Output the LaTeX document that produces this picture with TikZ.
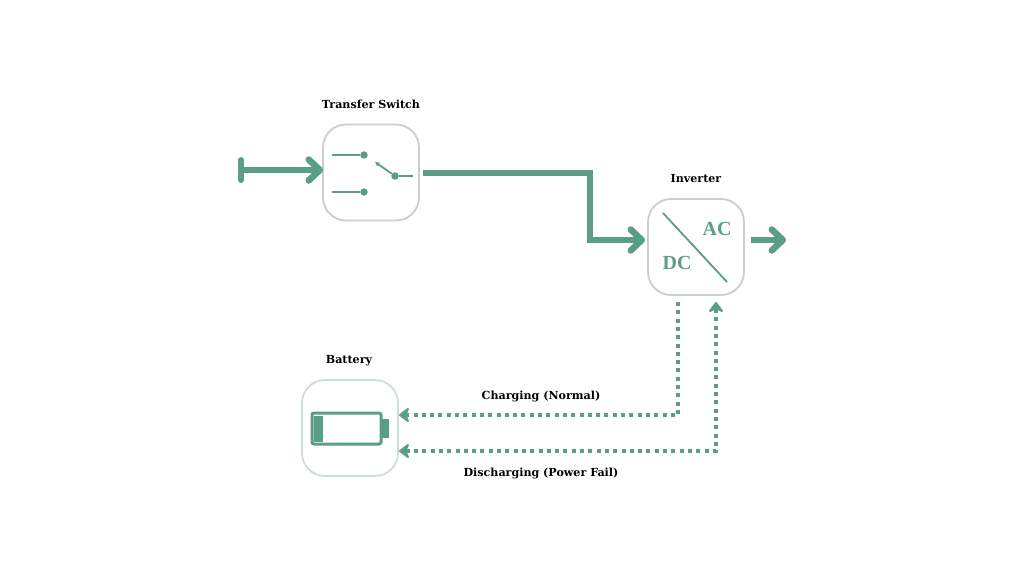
\documentclass[tikz,border=0pt]{standalone}
\usepackage{fontspec}
\setmainfont{DejaVu Serif}
\newfontfamily\iconfont{Liberation Serif}
\usetikzlibrary{arrows.meta}
\definecolor{flowgreen}{HTML}{5B9E86}
\definecolor{boxgray}{HTML}{CBCFCC}
\definecolor{boxpale}{HTML}{CFDDD7}
\tikzset{
  unitbox/.style={shape=rectangle,draw=boxgray,line width=1.8pt,rounded corners=23pt,minimum size=96pt,inner sep=0pt},
  caption/.style={font=\fontsize{11.1}{13}\selectfont\bfseries,text=black,inner sep=0pt},
  iconlabel/.style={font=\iconfont\fontsize{20}{22}\selectfont\bfseries,text=flowgreen,inner sep=0pt},
  contact/.style={shape=circle,fill=flowgreen,minimum size=7.5pt,inner sep=0pt},
  mainflow/.style={draw=flowgreen,line width=6pt,-{Straight Barb[round,length=11pt,width=21pt,line width=6.5pt]}},
  auxflow/.style={draw=flowgreen,line width=4pt,dash pattern=on 4pt off 4.3pt,{Stealth[round,length=12pt,width=18pt,inset=4pt]}-{Stealth[round,length=12pt,width=18pt,inset=4pt]}},
  chargeflow/.style={draw=flowgreen,line width=4pt,dash pattern=on 4pt off 4.3pt,-{Stealth[round,length=12pt,width=18pt,inset=4pt]}},
  wire/.style={draw=flowgreen,line width=1.8pt}
}
\begin{document}
\begin{tikzpicture}[x=1pt,y=-1pt]
\useasboundingbox (0,0) rectangle (1024,576);

\node(switch) at (371,172.5)[unitbox]  {};
\node(inverter) at (696,247)[unitbox]  {};
\node(battery) at (350,428)[unitbox,draw=boxpale]  {};

\node(switchcap) at (371,104.5)[caption]  {Transfer Switch};
\node(invertercap) at (696,178.5)[caption]  {Inverter};
\node(batterycap) at (349,360.5)[caption]  {Battery};
\node(chargecap) at (541,396.5)[caption]  {Charging (Normal)};
\node(dischargecap) at (541,473.5)[caption]  {Discharging (Power Fail)};

% switch symbol
\node(upper) at (364,155)[contact]  {};
\node(lower) at (364,192)[contact]  {};
\node(pole) at (395,176)[contact]  {};
\coordinate (upperin) at (332,155);
\coordinate (lowerin) at (332,192);
\coordinate (poleout) at (413,176);
\coordinate (throw) at (375,162);
\draw [wire] (upperin) -- (upper);
\draw [wire] (lowerin) -- (lower);
\draw [wire] (pole) -- (poleout);
\draw [wire,-{Stealth[length=5pt,width=5pt]}] (pole) -- (throw);

% inverter symbol
\node(ac) at (717,229)[iconlabel]  {AC};
\node(dc) at (677,263)[iconlabel]  {DC};
\coordinate (slashtop) at (663,213);
\coordinate (slashend) at (727,282);
\draw [wire] (slashtop) -- (slashend);

% battery symbol
\node(cell) at (346.5,428.5)[shape=rectangle,draw=flowgreen,line width=3pt,rounded corners=2pt,minimum width=69pt,minimum height=31pt,inner sep=0pt]  {};
\node(level) at (318.5,428.5)[shape=rectangle,fill=flowgreen,minimum width=9.5pt,minimum height=26pt,inner sep=0pt]  {};
\node(terminal) at (385,428.5)[shape=rectangle,fill=flowgreen,minimum width=8pt,minimum height=19pt,inner sep=0pt]  {};

% connectors
\coordinate (source) at (241,170);
\coordinate (sourcetop) at (241,160);
\coordinate (sourcebot) at (241,180);
\coordinate (switchin) at (323,170);
\coordinate (switchout) at (423,172.5);
\coordinate (bend) at (590,172.5);
\coordinate (elbow) at (590,240);
\coordinate (inverterin) at (645,240);
\coordinate (inverterout) at (751,240);
\coordinate (load) at (786,240);
\coordinate (chargestart) at (678,302);
\coordinate (chargecorner) at (678,415);
\coordinate (chargeend) at (399,415);
\coordinate (dischargeend) at (399,451);
\coordinate (dischargecorner) at (716,451);
\coordinate (dischargestart) at (716,302);

\draw [draw=flowgreen,line width=6pt,line cap=round] (sourcetop) -- (sourcebot);
\draw [mainflow] (source) -- (switchin);
\draw [mainflow] (switchout) -- (bend) -- (elbow) -- (inverterin);
\draw [mainflow] (inverterout) -- (load);
\draw [chargeflow] (chargestart) -- (chargecorner) -- (chargeend);
\draw [auxflow] (dischargeend) -- (dischargecorner) -- (dischargestart);

\end{tikzpicture}
\end{document}
